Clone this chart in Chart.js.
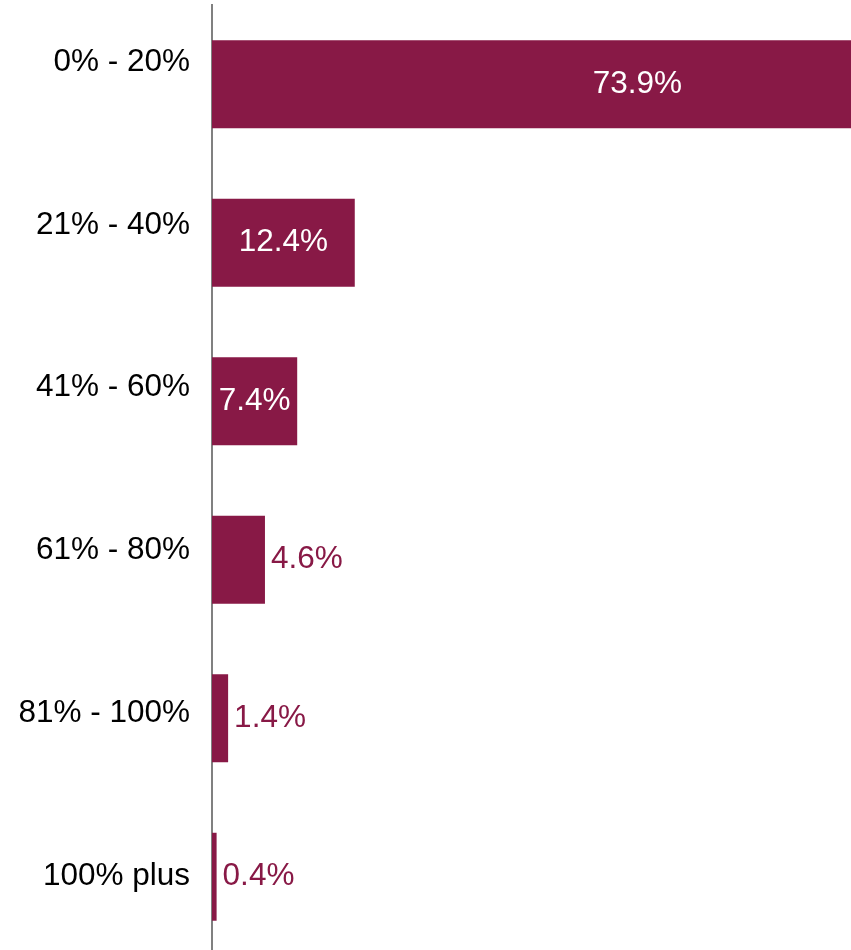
<!DOCTYPE html>
<html>
<head>
<meta charset="utf-8">
<title>Share by band</title>
<script src="https://cdn.jsdelivr.net/npm/chart.js@4/dist/chart.umd.min.js"></script>
<style>
  html, body { margin: 0; padding: 0; background: #ffffff; overflow: hidden; }
  canvas { display: block; }
</style>
</head>
<body>
<canvas id="chart" width="851" height="956"></canvas>
<script>
// Band labels and the share of cases falling in each band (%)
const categories = ['0% - 20%', '21% - 40%', '41% - 60%', '61% - 80%', '81% - 100%', '100% plus'];
const shares = [73.9, 12.4, 7.4, 4.6, 1.4, 0.4];

const MAROON = '#881946';
const FONT = '"Liberation Sans", Arial, Helvetica, sans-serif';
const FONT_SIZE = 31.5;

// Band names, placed along the 'yLabels' scale and right-aligned against the axis line
const bandLabels = {
  id: 'bandLabels',
  afterDraw(chart) {
    const scale = chart.scales.yLabels;
    const ctx = chart.ctx;
    ctx.save();
    ctx.font = FONT_SIZE + 'px ' + FONT;
    ctx.fillStyle = '#000000';
    ctx.textAlign = 'right';
    ctx.textBaseline = 'middle';
    categories.forEach((name, i) => {
      ctx.fillText(name, scale.right - 22, scale.getPixelForValue(i));
    });
    ctx.restore();
  }
};

// Value labels: white and centred inside bars that can hold them, maroon just past the end otherwise
const valueLabels = {
  id: 'valueLabels',
  afterDatasetsDraw(chart) {
    const ctx = chart.ctx;
    const meta = chart.getDatasetMeta(0);
    ctx.save();
    ctx.font = FONT_SIZE + 'px ' + FONT;
    ctx.textBaseline = 'middle';
    meta.data.forEach((bar, i) => {
      const text = shares[i].toFixed(1) + '%';
      const w = ctx.measureText(text).width;
      const len = bar.x - bar.base;
      if (w + 8 <= len) {
        ctx.fillStyle = '#ffffff';
        ctx.textAlign = 'center';
        ctx.fillText(text, (bar.x + bar.base) / 2, bar.y);
      } else {
        ctx.fillStyle = MAROON;
        ctx.textAlign = 'left';
        ctx.fillText(text, bar.x + 6, bar.y);
      }
    });
    ctx.restore();
  }
};

new Chart(document.getElementById('chart'), {
  type: 'bar',
  data: {
    labels: categories,
    datasets: [{
      data: shares,
      backgroundColor: MAROON,
      borderWidth: 0,
      categoryPercentage: 1.0,
      barPercentage: 0.555
    }]
  },
  options: {
    indexAxis: 'y',
    responsive: false,
    animation: false,
    events: [],
    layout: { padding: { top: 5, bottom: 0, left: 0, right: 0 } },
    plugins: {
      legend: { display: false },
      tooltip: { enabled: false },
      title: { display: false }
    },
    scales: {
      x: {
        display: false,
        min: 0,
        max: 55.5
      },
      y: {
        type: 'category',
        position: 'left',
        weight: 0,
        grid: { display: false, drawTicks: false },
        border: { display: true, color: '#808080', width: 2 },
        ticks: { display: false }
      },
      // positioning scale for the band names (one unit per band)
      yLabels: {
        type: 'linear',
        position: 'left',
        weight: 1,
        reverse: true,
        offset: false,
        bounds: 'data',
        min: -0.35,
        max: 5.49,
        grid: { display: false, drawTicks: false },
        border: { display: false },
        afterFit: (scale) => { scale.width = 212; },
        ticks: { display: false }
      }
    }
  },
  plugins: [valueLabels, bandLabels]
});
</script>
</body>
</html>
